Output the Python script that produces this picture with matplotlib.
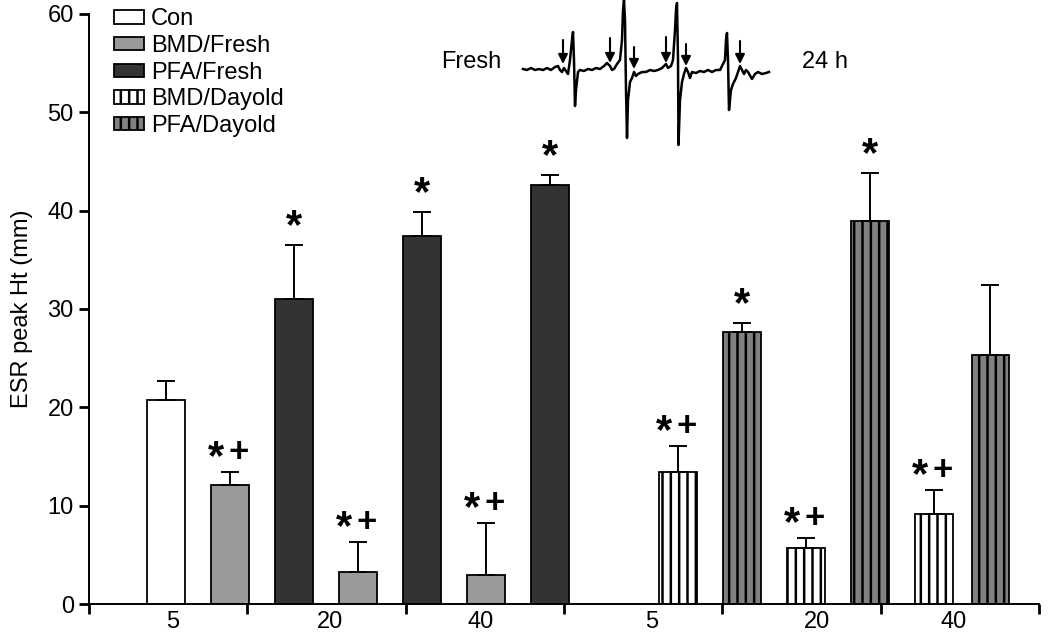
import matplotlib.pyplot as plt
import numpy as np
from matplotlib.patches import Patch

plt.rcParams['font.family'] = ['Liberation Sans', 'DejaVu Sans']
plt.rcParams['hatch.linewidth'] = 1.8

# Data
groups = ['Con', 'BMD/Fresh', 'PFA/Fresh', 'BMD/Fresh', 'PFA/Fresh', 'BMD/Fresh', 'PFA/Fresh',
          'BMD/Dayold', 'PFA/Dayold', 'BMD/Dayold', 'PFA/Dayold', 'BMD/Dayold', 'PFA/Dayold']
values = [20.7, 12.1, 31.0, 3.3, 37.4, 3.0, 42.6, 13.4, 27.7, 5.7, 38.9, 9.2, 25.3]
errors = [2.0, 1.3, 5.5, 3.0, 2.5, 5.2, 1.0, 2.7, 0.9, 1.05, 4.9, 2.4, 7.1]
marks = ['', '*+', '*', '*+', '*', '*+', '*', '*+', '*', '*+', '*', '*+', '']
dose_labels = ['5', '20', '40', '5', '20', '40']
legend_order = ['Con', 'BMD/Fresh', 'PFA/Fresh', 'BMD/Dayold', 'PFA/Dayold']

# ESR trace inset (pixel-like units)
trace_x = [523, 527, 531, 535, 539, 543, 547, 551, 555, 558, 560, 562, 564, 566, 568, 570, 572, 573,
           574, 575, 576, 578, 580, 584, 588, 592, 596, 600, 604, 607, 610, 612, 614, 617, 620, 622,
           623, 624, 625, 626, 627, 628, 630, 632, 634, 636, 638, 642, 646, 650, 654, 658, 662, 666,
           668, 671, 673, 675, 676, 677, 678, 678.5, 680, 682, 684, 686, 688, 690, 692, 696, 700, 704,
           708, 712, 716, 720, 723, 725, 726, 727, 728, 729, 731, 733, 736, 738, 740, 742, 744, 746,
           748, 752, 755, 758, 762, 766, 769]
trace_y = [69, 70, 68, 70, 69, 70, 68, 70, 67, 66, 70, 72, 68, 71, 74, 60, 40, 32,
           60, 106, 90, 72, 70, 71, 69, 70, 68, 69, 66, 63, 66, 70, 69, 64, 60, 40,
           10, 0, 20, 90, 138, 100, 82, 78, 72, 76, 74, 72, 72, 70, 71, 70, 68, 64,
           68, 66, 60, 30, 10, 3, 60, 145, 100, 82, 74, 68, 72, 78, 72, 73, 71, 72,
           70, 72, 70, 70, 64, 60, 40, 33, 60, 110, 90, 84, 78, 72, 66, 70, 74, 70,
           72, 79, 74, 72, 74, 73, 72]
arrow_x = [563, 610, 634, 666, 686, 740]
arrow_top = [40, 38, 47, 37, 44, 41]
arrow_tip = [64, 63, 69, 63, 66, 64]

# Styles
face = {'Con': 'white', 'BMD/Fresh': '#9a9a9a', 'PFA/Fresh': '#333333',
        'BMD/Dayold': 'white', 'PFA/Dayold': '#808080'}
hatch = {'Con': None, 'BMD/Fresh': None, 'PFA/Fresh': None,
         'BMD/Dayold': '||', 'PFA/Dayold': '||'}

# Layout (slot units)
positions = [0, 1, 2, 3, 4, 5, 6, 8, 9, 10, 11, 12, 12.88]
xmin, xmax = -1.203, 13.64
label_pos = [0.11, 2.56, 4.91, 7.59, 10.17, 12.3]
bar_w = 0.59
fs = 17

fig = plt.figure(figsize=(10.5, 6.35), dpi=100)
ax = fig.add_axes([0.0848, 0.0488, 0.9048, 0.9292])

for x, g, v, e, m in zip(positions, groups, values, errors, marks):
    ax.bar(x, v, width=bar_w, color=face[g], edgecolor='black', linewidth=1.3,
           hatch=hatch[g], zorder=2)
    ax.errorbar(x, v, yerr=[[0], [e]], fmt='none', ecolor='black', elinewidth=1.4,
                capsize=6.5, capthick=1.4, zorder=3)
    if m == '*':
        ax.annotate('*', (x, v + e), xytext=(0, 13), textcoords='offset points',
                    ha='center', va='center', fontsize=30, fontweight='bold')
    elif m == '*+':
        ax.annotate('*', (x, v + e), xytext=(-10, 10), textcoords='offset points',
                    ha='center', va='center', fontsize=30, fontweight='bold')
        ax.annotate('+', (x, v + e), xytext=(6, 14), textcoords='offset points',
                    ha='center', va='center', fontsize=25, fontweight='bold')

ax.set_xlim(xmin, xmax)
ax.set_ylim(0, 60)
ax.set_yticks(np.arange(0, 61, 10))
ax.tick_params(axis='y', labelsize=fs, direction='out', length=7, width=2, pad=4)
ax.set_xticks(np.linspace(xmin, xmax, 7))
ax.set_xticklabels([])
ax.set_xticks(label_pos, minor=True)
ax.set_xticklabels(dose_labels, minor=True)
ax.tick_params(axis='x', which='major', direction='out', length=7, width=2)
ax.tick_params(axis='x', which='minor', length=0, labelsize=fs, pad=5)
ax.set_ylabel('ESR peak Ht (mm)', fontsize=fs, labelpad=10)

ax.spines['top'].set_visible(False)
ax.spines['right'].set_visible(False)
ax.spines['left'].set_linewidth(1.4)
ax.spines['bottom'].set_linewidth(1.4)

handles = [Patch(facecolor=face[g], edgecolor='black', linewidth=1.3, hatch=hatch[g], label=g)
           for g in legend_order]
ax.legend(handles=handles, loc='upper left', bbox_to_anchor=(0.109, 0.987),
          bbox_transform=fig.transFigure, frameon=False, fontsize=fs, borderpad=0,
          handlelength=1.25, handleheight=0.5, handletextpad=0.3, labelspacing=0.2,
          borderaxespad=0)

# ESR spectrum inset
ins = fig.add_axes([515 / 1050, 1 - 150 / 635, 265 / 1050, 150 / 635])
ins.set_xlim(515, 780)
ins.set_ylim(150, 0)
ins.axis('off')
ins.plot(trace_x, trace_y, color='black', linewidth=1.8)
for xa, yt, yp in zip(arrow_x, arrow_top, arrow_tip):
    ins.annotate('', xy=(xa, yp), xytext=(xa, yt),
                 arrowprops=dict(arrowstyle='-|>', color='black', lw=1.5,
                                 mutation_scale=14, shrinkA=0, shrinkB=0))
fig.text(471 / 1050, 1 - 62 / 635, 'Fresh', ha='center', va='center', fontsize=fs)
fig.text(825 / 1050, 1 - 62 / 635, '24 h', ha='center', va='center', fontsize=fs)

fig.savefig('out.png', dpi=100)
